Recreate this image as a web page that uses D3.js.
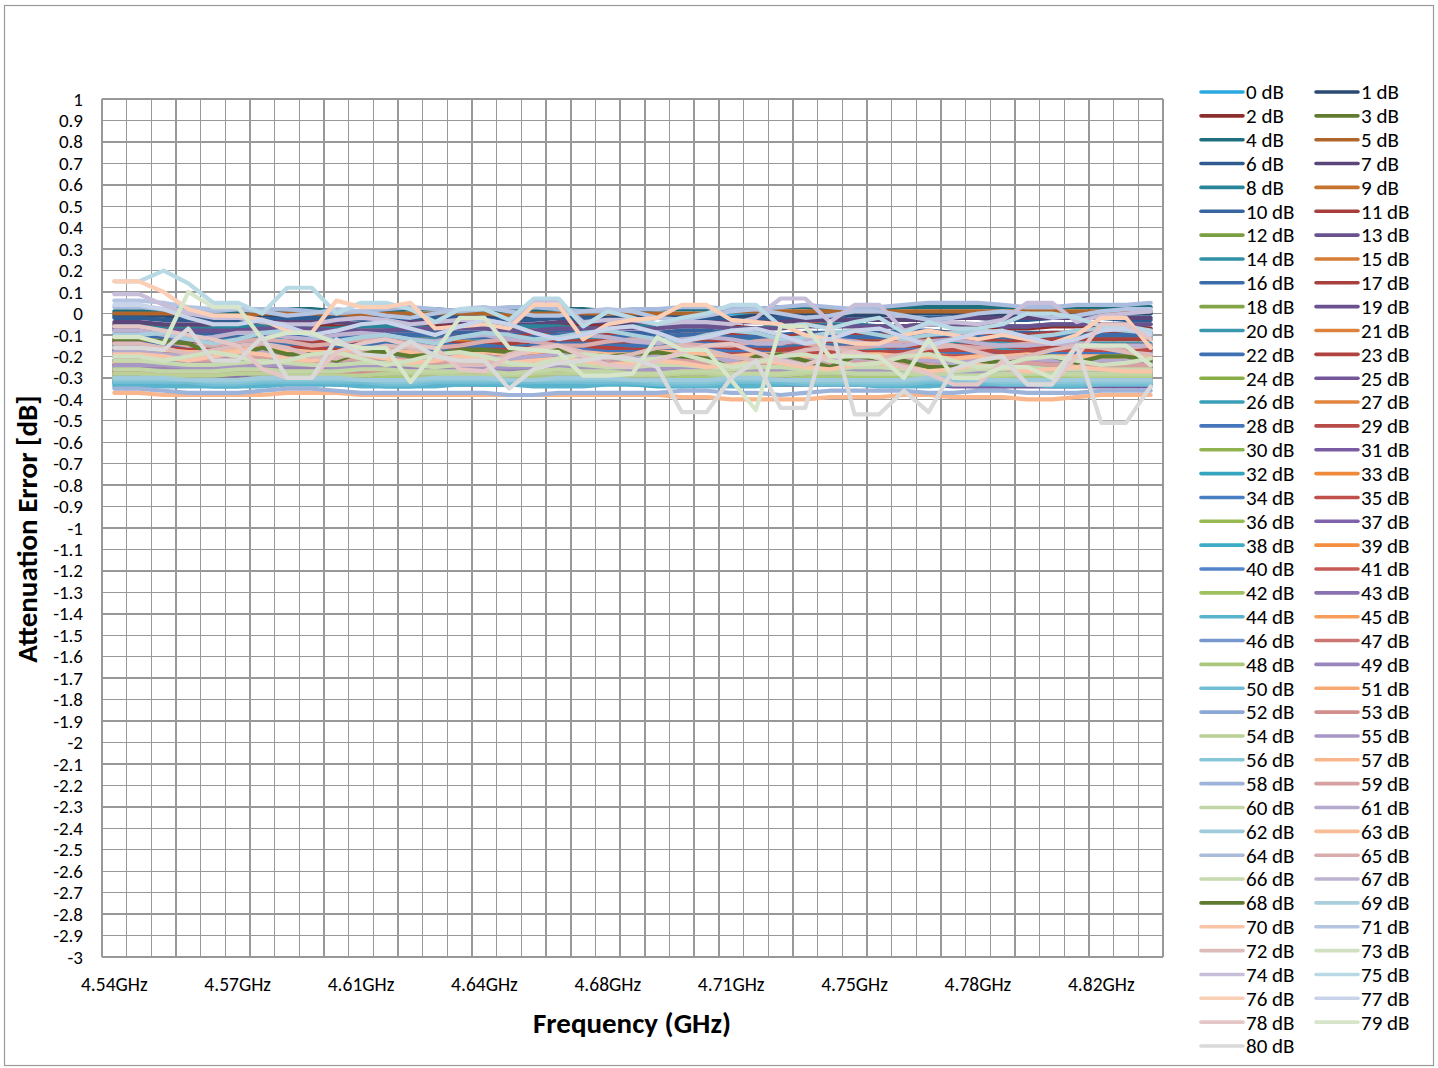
<!DOCTYPE html>
<html><head><meta charset="utf-8">
<script src="https://cdn.jsdelivr.net/npm/d3@7"></script>
<style>
body{margin:0;background:#fff}
svg{display:block}
text{font-family:Carlito,Calibri,Lato,sans-serif;fill:#000}
</style>
</head><body>
<svg id="chart" width="1438" height="1068"></svg>
<script>
// ---------- data ----------
const categories = ["4.54GHz","4.55GHz","4.55GHz","4.56GHz","4.57GHz","4.57GHz","4.58GHz","4.59GHz","4.60GHz","4.60GHz",
"4.61GHz","4.62GHz","4.62GHz","4.63GHz","4.64GHz","4.64GHz","4.65GHz","4.66GHz","4.67GHz","4.67GHz",
"4.68GHz","4.69GHz","4.69GHz","4.70GHz","4.71GHz","4.71GHz","4.72GHz","4.73GHz","4.74GHz","4.74GHz",
"4.75GHz","4.76GHz","4.76GHz","4.77GHz","4.78GHz","4.78GHz","4.79GHz","4.80GHz","4.81GHz","4.81GHz",
"4.82GHz","4.83GHz","4.83GHz"];
const labelledCategories = [0,5,10,15,20,25,30,35,40];
const yTicks = [1,0.9,0.8,0.7,0.6,0.5,0.4,0.3,0.2,0.1,0,-0.1,-0.2,-0.3,-0.4,-0.5,-0.6,-0.7,-0.8,-0.9,-1,
-1.1,-1.2,-1.3,-1.4,-1.5,-1.6,-1.7,-1.8,-1.9,-2,-2.1,-2.2,-2.3,-2.4,-2.5,-2.6,-2.7,-2.8,-2.9,-3];
const attenuations = [0,1,2,3,4,5,6,7,8,9,10,11,12,13,14,15,16,17,18,19,20,21,22,23,24,25,26,27,28,29,30,
31,32,33,34,35,36,37,38,39,40,41,42,43,44,45,46,47,48,49,50,51,52,53,54,55,56,57,58,59,60,
61,62,63,64,65,66,67,68,69,70,71,72,73,74,75,76,77,78,79,80];

const s0=[0,0,0,0,0,0,0,0,0,0, 0,0,0,0,0,0,0,0,0,0, 0,0,0,0,0,0,0,0,0,0, 0,0,0,0,0,0,0,0,0,0, 0,0,0];
const s1=[-.01,-.01,-.01,-.02,-.02,-.02,-.01,-.01,-.01,-.01, -.02,-.02,-.01,-.01,-.01,-.02,-.02,-.01,-.01,-.01, -.02,-.01,-.01,-.01,-.01,-.02,-.01,-.01,0,0, -.01,-.01,0,0,0,-.01,-.01,0,0,0, 0,0,0];
const s2=[-.05,-.05,-.06,-.06,-.07,-.07,-.06,-.05,-.05,-.06, -.06,-.06,-.05,-.05,-.06,-.07,-.07,-.06,-.05,-.05, -.06,-.06,-.05,-.05,-.06,-.06,-.07,-.06,-.05,-.05, -.06,-.06,-.06,-.05,-.05,-.06,-.07,-.07,-.06,-.06, -.06,-.06,-.07];
const s3=[-.26,-.26,-.27,-.27,-.28,-.28,-.27,-.27,-.26,-.26, -.27,-.27,-.28,-.28,-.27,-.27,-.27,-.26,-.26,-.27, -.27,-.28,-.28,-.27,-.27,-.26,-.27,-.27,-.28,-.28, -.27,-.27,-.26,-.26,-.27,-.27,-.28,-.28,-.27,-.27, -.27,-.27,-.28];
const s4=[.01,.01,.02,.02,.01,.01,.01,.02,.02,.01, .01,.01,.02,.02,.01,.01,.01,.01,.02,.02, .01,.01,.02,.02,.02,.02,.02,.03,.03,.02, .02,.02,.03,.03,.03,.03,.03,.03,.03,.03, .03,.03,.03];
const s5=[0,0,0,0,-.01,-.01,0,0,0,-.01, -.01,0,0,0,0,0,-.01,0,0,0, 0,0,0,0,0,.01,.01,.01,.01,.01, .01,.01,.01,.01,.01,.01,.01,.01,.01,.01, .01,.01,.01];
const s6=[-.02,-.02,-.03,-.03,-.03,-.03,-.03,-.02,-.02,-.02, -.03,-.03,-.03,-.02,-.02,-.03,-.03,-.03,-.02,-.02, -.03,-.03,-.02,-.02,-.02,-.03,-.03,-.02,-.02,-.02, -.03,-.03,-.03,-.02,-.02,-.02,-.03,-.03,-.02,-.02, -.02,-.03,-.03];
const s7=[-.04,-.04,-.05,-.05,-.05,-.05,-.04,-.04,-.04,-.04, -.05,-.05,-.04,-.04,-.04,-.05,-.05,-.05,-.04,-.04, -.04,-.05,-.05,-.04,-.04,-.04,-.04,-.04,-.03,-.03, -.03,-.03,-.03,-.03,-.02,-.02,-.02,-.02,-.02,-.02, -.02,-.02,-.02];
const s8=[-.06,-.06,-.07,-.07,-.07,-.06,-.06,-.06,-.07,-.07, -.06,-.06,-.06,-.07,-.07,-.07,-.06,-.06,-.06,-.07, -.07,-.06,-.06,-.06,-.06,-.07,-.07,-.06,-.06,-.05, -.05,-.06,-.06,-.05,-.05,-.05,-.06,-.06,-.05,-.05, -.05,-.05,-.05];
const s9=[-.10,-.10,-.11,-.11,-.12,-.12,-.11,-.10,-.10,-.11, -.11,-.12,-.11,-.11,-.10,-.11,-.12,-.12,-.11,-.10, -.10,-.11,-.11,-.12,-.12,-.11,-.11,-.10,-.11,-.12, -.12,-.11,-.11,-.11,-.12,-.12,-.11,-.11,-.11,-.12, -.12,-.12,-.12];
const s10=[-.08,-.08,-.09,-.09,-.09,-.08,-.08,-.08,-.09,-.09, -.09,-.08,-.08,-.08,-.09,-.09,-.10,-.09,-.08,-.08, -.09,-.09,-.09,-.08,-.08,-.09,-.09,-.10,-.09,-.09, -.09,-.09,-.08,-.08,-.09,-.09,-.09,-.09,-.09,-.09, -.09,-.09,-.09];
const s11=[-.10,-.10,-.10,-.11,-.11,-.11,-.10,-.10,-.10,-.11, -.11,-.10,-.10,-.10,-.11,-.11,-.11,-.10,-.10,-.10, -.10,-.11,-.11,-.10,-.10,-.10,-.11,-.11,-.10,-.10, -.10,-.10,-.10,-.09,-.09,-.09,-.10,-.10,-.09,-.09, -.09,-.09,-.09];
const s12=[-.24,-.24,-.25,-.25,-.26,-.26,-.25,-.25,-.24,-.25, -.25,-.26,-.26,-.25,-.25,-.25,-.26,-.26,-.25,-.25, -.24,-.25,-.25,-.26,-.26,-.25,-.25,-.25,-.26,-.26, -.26,-.25,-.25,-.25,-.26,-.26,-.26,-.25,-.25,-.26, -.26,-.26,-.27];
const s13=[-.07,-.07,-.08,-.08,-.08,-.08,-.07,-.07,-.07,-.08, -.08,-.08,-.07,-.07,-.07,-.07,-.08,-.08,-.07,-.07, -.07,-.07,-.07,-.06,-.06,-.07,-.07,-.07,-.06,-.06, -.06,-.06,-.06,-.05,-.05,-.05,-.06,-.06,-.05,-.05, -.05,-.05,-.05];
const s14=[-.12,-.12,-.13,-.13,-.13,-.12,-.12,-.12,-.13,-.13, -.13,-.12,-.12,-.12,-.13,-.13,-.13,-.12,-.12,-.12, -.12,-.13,-.13,-.12,-.12,-.12,-.13,-.13,-.12,-.12, -.11,-.11,-.12,-.12,-.11,-.11,-.11,-.12,-.12,-.11, -.11,-.11,-.11];
const s15=[-.13,-.13,-.14,-.14,-.15,-.15,-.14,-.13,-.13,-.14, -.14,-.15,-.14,-.14,-.13,-.14,-.15,-.15,-.14,-.13, -.13,-.14,-.14,-.15,-.15,-.14,-.14,-.13,-.14,-.15, -.15,-.14,-.14,-.14,-.15,-.15,-.14,-.14,-.14,-.15, -.15,-.15,-.15];
const s16=[-.10,-.10,-.11,-.11,-.11,-.10,-.10,-.10,-.11,-.11, -.11,-.10,-.10,-.10,-.11,-.11,-.12,-.11,-.10,-.10, -.11,-.11,-.11,-.10,-.10,-.11,-.11,-.12,-.11,-.11, -.11,-.11,-.10,-.10,-.11,-.11,-.11,-.11,-.11,-.10, -.10,-.10,-.10];
const s17=[-.13,-.13,-.13,-.14,-.14,-.14,-.13,-.13,-.13,-.14, -.14,-.13,-.13,-.13,-.14,-.14,-.14,-.13,-.13,-.13, -.13,-.14,-.14,-.13,-.13,-.13,-.14,-.14,-.13,-.13, -.13,-.13,-.13,-.12,-.12,-.12,-.13,-.13,-.12,-.12, -.12,-.12,-.12];
const s18=[-.27,-.27,-.28,-.28,-.28,-.27,-.27,-.27,-.28,-.28, -.28,-.27,-.27,-.27,-.28,-.28,-.29,-.28,-.27,-.27, -.28,-.28,-.28,-.27,-.27,-.28,-.28,-.29,-.28,-.28, -.28,-.28,-.27,-.27,-.28,-.28,-.28,-.28,-.28,-.28, -.28,-.28,-.28];
const s19=[-.30,-.30,-.30,-.31,-.31,-.31,-.30,-.30,-.30,-.31, -.31,-.30,-.30,-.30,-.31,-.31,-.31,-.30,-.30,-.30, -.30,-.31,-.31,-.30,-.30,-.30,-.31,-.31,-.31,-.31, -.31,-.31,-.31,-.31,-.32,-.32,-.32,-.31,-.31,-.31, -.31,-.31,-.31];
const s20=[-.15,-.15,-.16,-.16,-.16,-.15,-.15,-.15,-.16,-.16, -.16,-.15,-.15,-.15,-.16,-.16,-.16,-.15,-.15,-.15, -.15,-.16,-.16,-.15,-.15,-.15,-.16,-.16,-.15,-.15, -.14,-.14,-.15,-.15,-.14,-.14,-.14,-.15,-.15,-.14, -.14,-.14,-.14];
const s21=[-.17,-.17,-.18,-.18,-.18,-.18,-.17,-.17,-.17,-.18, -.18,-.18,-.17,-.17,-.17,-.17,-.18,-.18,-.17,-.17, -.17,-.18,-.18,-.18,-.18,-.17,-.17,-.17,-.17,-.18, -.18,-.17,-.17,-.17,-.17,-.18,-.18,-.17,-.17,-.17, -.17,-.17,-.17];
const s22=[-.14,-.14,-.15,-.15,-.15,-.14,-.14,-.14,-.15,-.15, -.15,-.14,-.14,-.14,-.15,-.15,-.16,-.15,-.14,-.14, -.15,-.15,-.15,-.14,-.14,-.15,-.15,-.16,-.15,-.15, -.15,-.15,-.14,-.14,-.15,-.15,-.15,-.15,-.15,-.15, -.15,-.15,-.15];
const s23=[-.16,-.16,-.16,-.17,-.17,-.17,-.16,-.16,-.16,-.17, -.17,-.16,-.16,-.16,-.17,-.17,-.17,-.16,-.16,-.16, -.16,-.17,-.17,-.16,-.16,-.16,-.17,-.17,-.16,-.16, -.16,-.16,-.16,-.15,-.15,-.15,-.16,-.16,-.15,-.15, -.15,-.15,-.15];
const s24=[-.28,-.28,-.29,-.29,-.29,-.28,-.28,-.28,-.29,-.29, -.29,-.28,-.28,-.28,-.29,-.29,-.30,-.29,-.28,-.28, -.29,-.29,-.29,-.28,-.28,-.29,-.29,-.30,-.29,-.29, -.29,-.29,-.28,-.28,-.29,-.29,-.29,-.29,-.29,-.29, -.29,-.29,-.29];
const s25=[-.31,-.31,-.31,-.32,-.32,-.32,-.31,-.31,-.31,-.32, -.32,-.31,-.31,-.31,-.32,-.32,-.32,-.32,-.31,-.31, -.32,-.32,-.32,-.32,-.32,-.32,-.33,-.33,-.33,-.33, -.33,-.33,-.33,-.33,-.33,-.34,-.34,-.34,-.34,-.34, -.34,-.34,-.34];
const s26=[-.18,-.18,-.19,-.19,-.19,-.18,-.18,-.18,-.19,-.19, -.19,-.18,-.18,-.18,-.19,-.19,-.19,-.18,-.18,-.18, -.18,-.19,-.19,-.18,-.18,-.18,-.19,-.19,-.18,-.18, -.17,-.17,-.18,-.18,-.17,-.17,-.17,-.18,-.18,-.17, -.17,-.17,-.17];
const s27=[-.20,-.20,-.21,-.21,-.21,-.21,-.20,-.20,-.20,-.21, -.21,-.21,-.20,-.20,-.20,-.20,-.21,-.21,-.20,-.20, -.20,-.21,-.21,-.21,-.21,-.20,-.20,-.20,-.20,-.21, -.21,-.20,-.20,-.19,-.19,-.20,-.20,-.19,-.19,-.19, -.19,-.19,-.19];
const s28=[-.17,-.17,-.18,-.18,-.18,-.17,-.17,-.17,-.18,-.18, -.18,-.17,-.17,-.17,-.18,-.18,-.19,-.18,-.17,-.17, -.18,-.18,-.18,-.17,-.17,-.18,-.18,-.19,-.18,-.18, -.18,-.18,-.17,-.17,-.18,-.18,-.18,-.18,-.18,-.18, -.18,-.18,-.18];
const s29=[-.19,-.19,-.19,-.20,-.20,-.20,-.19,-.19,-.19,-.20, -.20,-.19,-.19,-.19,-.20,-.20,-.20,-.19,-.19,-.19, -.19,-.20,-.20,-.19,-.19,-.19,-.19,-.19,-.18,-.18, -.18,-.18,-.18,-.17,-.17,-.17,-.18,-.18,-.17,-.17, -.17,-.17,-.17];
const s30=[-.29,-.29,-.30,-.30,-.30,-.29,-.29,-.29,-.30,-.30, -.30,-.29,-.29,-.29,-.30,-.30,-.31,-.30,-.29,-.29, -.30,-.30,-.30,-.29,-.29,-.30,-.30,-.31,-.30,-.30, -.30,-.30,-.29,-.29,-.30,-.30,-.30,-.30,-.30,-.30, -.30,-.30,-.30];
const s31=[-.32,-.32,-.32,-.33,-.33,-.33,-.32,-.32,-.32,-.33, -.33,-.32,-.32,-.32,-.33,-.33,-.33,-.32,-.32,-.32, -.32,-.33,-.33,-.32,-.32,-.32,-.33,-.33,-.33,-.33, -.33,-.33,-.33,-.33,-.34,-.34,-.34,-.33,-.33,-.33, -.33,-.33,-.33];
const s32=[-.32,-.32,-.33,-.33,-.33,-.32,-.32,-.32,-.32,-.32, -.33,-.33,-.32,-.32,-.32,-.33,-.33,-.32,-.32,-.32, -.32,-.32,-.33,-.33,-.32,-.32,-.32,-.32,-.31,-.31, -.32,-.32,-.32,-.31,-.31,-.31,-.32,-.32,-.31,-.31, -.31,-.31,-.31];
const s33=[-.22,-.22,-.23,-.23,-.23,-.23,-.22,-.22,-.22,-.23, -.23,-.23,-.22,-.22,-.22,-.22,-.23,-.23,-.22,-.22, -.22,-.23,-.23,-.23,-.23,-.22,-.22,-.22,-.22,-.23, -.23,-.22,-.22,-.21,-.21,-.22,-.22,-.21,-.21,-.21, -.21,-.21,-.21];
const s34=[-.20,-.20,-.21,-.21,-.21,-.20,-.20,-.20,-.21,-.21, -.21,-.20,-.20,-.20,-.21,-.21,-.22,-.21,-.20,-.20, -.21,-.21,-.21,-.20,-.20,-.21,-.21,-.22,-.21,-.21, -.21,-.21,-.20,-.20,-.21,-.21,-.21,-.20,-.20,-.20, -.20,-.20,-.20];
const s35=[-.22,-.22,-.22,-.23,-.23,-.23,-.22,-.22,-.22,-.23, -.23,-.22,-.22,-.22,-.23,-.23,-.23,-.22,-.22,-.22, -.22,-.23,-.23,-.22,-.22,-.22,-.22,-.22,-.21,-.21, -.21,-.21,-.21,-.20,-.20,-.20,-.21,-.21,-.20,-.20, -.20,-.20,-.20];
const s36=[-.30,-.30,-.31,-.31,-.31,-.30,-.30,-.30,-.31,-.31, -.31,-.30,-.30,-.30,-.31,-.31,-.31,-.30,-.30,-.30, -.31,-.31,-.31,-.30,-.30,-.31,-.31,-.31,-.30,-.30, -.30,-.30,-.30,-.30,-.31,-.31,-.31,-.30,-.30,-.30, -.30,-.30,-.30];
const s37=[-.27,-.27,-.27,-.28,-.28,-.28,-.27,-.27,-.27,-.28, -.28,-.27,-.27,-.27,-.28,-.28,-.28,-.27,-.27,-.27, -.28,-.28,-.28,-.28,-.28,-.28,-.29,-.29,-.28,-.28, -.28,-.29,-.29,-.29,-.29,-.29,-.29,-.29,-.29,-.29, -.29,-.29,-.29];
const s38=[-.33,-.33,-.33,-.33,-.34,-.34,-.33,-.33,-.33,-.33, -.33,-.34,-.34,-.33,-.33,-.33,-.33,-.33,-.33,-.33, -.33,-.33,-.34,-.34,-.33,-.33,-.33,-.33,-.32,-.32, -.33,-.33,-.33,-.32,-.32,-.32,-.33,-.33,-.32,-.32, -.32,-.32,-.32];
const s39=[-.24,-.24,-.25,-.25,-.25,-.25,-.24,-.24,-.24,-.25, -.25,-.25,-.24,-.24,-.24,-.24,-.25,-.25,-.24,-.24, -.24,-.25,-.25,-.25,-.25,-.24,-.24,-.24,-.24,-.25, -.25,-.24,-.24,-.23,-.23,-.24,-.24,-.23,-.23,-.23, -.23,-.23,-.23];
const s40=[-.22,-.22,-.23,-.23,-.23,-.22,-.22,-.22,-.23,-.23, -.23,-.22,-.22,-.22,-.23,-.23,-.24,-.23,-.22,-.22, -.23,-.23,-.23,-.22,-.22,-.23,-.23,-.24,-.23,-.23, -.23,-.23,-.22,-.22,-.23,-.23,-.23,-.23,-.23,-.23, -.23,-.23,-.23];
const s41=[-.24,-.24,-.24,-.25,-.25,-.25,-.24,-.24,-.24,-.25, -.25,-.24,-.24,-.24,-.25,-.25,-.25,-.24,-.24,-.24, -.24,-.25,-.25,-.24,-.24,-.24,-.24,-.24,-.23,-.23, -.23,-.23,-.23,-.22,-.22,-.22,-.23,-.23,-.22,-.22, -.22,-.22,-.22];
const s42=[-.31,-.31,-.32,-.32,-.32,-.31,-.31,-.31,-.32,-.32, -.32,-.31,-.31,-.31,-.32,-.32,-.32,-.31,-.31,-.31, -.31,-.32,-.32,-.31,-.31,-.31,-.32,-.32,-.31,-.31, -.31,-.31,-.31,-.31,-.32,-.32,-.32,-.31,-.31,-.31, -.31,-.31,-.31];
const s43=[-.28,-.28,-.28,-.29,-.29,-.29,-.28,-.28,-.28,-.29, -.29,-.28,-.28,-.28,-.29,-.29,-.29,-.28,-.28,-.28, -.29,-.29,-.29,-.29,-.29,-.29,-.30,-.30,-.29,-.29, -.29,-.30,-.30,-.30,-.30,-.30,-.30,-.30,-.30,-.30, -.30,-.30,-.30];
const s44=[-.34,-.34,-.34,-.34,-.34,-.34,-.34,-.33,-.33,-.33, -.34,-.34,-.34,-.34,-.33,-.33,-.33,-.34,-.34,-.34, -.33,-.33,-.33,-.34,-.34,-.34,-.34,-.33,-.33,-.33, -.33,-.34,-.34,-.34,-.33,-.33,-.33,-.33,-.34,-.34, -.33,-.33,-.33];
const s45=[-.27,-.27,-.28,-.28,-.28,-.28,-.27,-.27,-.27,-.28, -.28,-.28,-.27,-.27,-.27,-.27,-.28,-.28,-.27,-.27, -.27,-.27,-.27,-.27,-.27,-.26,-.26,-.26,-.26,-.27, -.27,-.26,-.26,-.25,-.25,-.26,-.26,-.25,-.25,-.25, -.25,-.25,-.25];
const s46=[-.25,-.25,-.26,-.26,-.26,-.25,-.25,-.25,-.26,-.26, -.26,-.25,-.25,-.25,-.26,-.26,-.27,-.26,-.25,-.25, -.26,-.26,-.26,-.25,-.25,-.26,-.26,-.27,-.26,-.26, -.26,-.26,-.25,-.25,-.26,-.26,-.26,-.25,-.25,-.25, -.25,-.25,-.25];
const s47=[-.26,-.26,-.26,-.27,-.27,-.27,-.26,-.26,-.26,-.27, -.27,-.26,-.26,-.26,-.27,-.27,-.27,-.26,-.26,-.26, -.26,-.27,-.27,-.26,-.26,-.26,-.26,-.26,-.25,-.25, -.25,-.25,-.25,-.25,-.25,-.25,-.26,-.26,-.25,-.25, -.25,-.25,-.25];
const s48=[-.30,-.30,-.30,-.31,-.31,-.31,-.30,-.30,-.30,-.31, -.31,-.30,-.30,-.30,-.30,-.31,-.31,-.30,-.30,-.30, -.30,-.31,-.31,-.30,-.30,-.30,-.31,-.31,-.30,-.30, -.30,-.30,-.30,-.30,-.31,-.31,-.30,-.30,-.30,-.30, -.30,-.30,-.30];
const s49=[-.26,-.26,-.26,-.27,-.27,-.27,-.26,-.26,-.26,-.27, -.27,-.26,-.26,-.26,-.27,-.27,-.27,-.26,-.26,-.26, -.27,-.27,-.27,-.27,-.27,-.27,-.28,-.28,-.27,-.27, -.27,-.28,-.28,-.28,-.28,-.28,-.28,-.28,-.28,-.28, -.28,-.28,-.28];
const s50=[-.32,-.32,-.32,-.32,-.33,-.33,-.32,-.32,-.32,-.32, -.32,-.33,-.33,-.32,-.32,-.32,-.32,-.32,-.32,-.32, -.32,-.32,-.33,-.33,-.33,-.32,-.32,-.32,-.33,-.33, -.33,-.33,-.33,-.32,-.32,-.32,-.33,-.33,-.33,-.33, -.33,-.33,-.33];
const s51=[-.23,-.23,-.24,-.24,-.24,-.24,-.23,-.23,-.23,-.24, -.24,-.24,-.23,-.23,-.23,-.23,-.24,-.24,-.23,-.23, -.23,-.23,-.23,-.23,-.23,-.22,-.22,-.22,-.22,-.23, -.23,-.22,-.22,-.21,-.21,-.22,-.22,-.21,-.21,-.21, -.21,-.21,-.21];
const s52=[-.27,-.27,-.28,-.28,-.28,-.27,-.27,-.27,-.28,-.28, -.28,-.27,-.27,-.27,-.28,-.28,-.28,-.27,-.27,-.27, -.28,-.28,-.28,-.27,-.27,-.28,-.28,-.28,-.27,-.27, -.27,-.27,-.27,-.27,-.28,-.28,-.28,-.27,-.27,-.27, -.27,-.27,-.27];
const s53=[-.27,-.27,-.27,-.28,-.28,-.28,-.27,-.27,-.27,-.28, -.28,-.27,-.27,-.27,-.28,-.28,-.28,-.27,-.27,-.27, -.27,-.28,-.28,-.27,-.27,-.27,-.27,-.27,-.26,-.26, -.26,-.26,-.26,-.26,-.26,-.26,-.27,-.27,-.26,-.26, -.26,-.26,-.26];
const s54=[-.28,-.28,-.29,-.29,-.29,-.28,-.28,-.28,-.29,-.29, -.29,-.28,-.28,-.28,-.29,-.29,-.29,-.28,-.28,-.28, -.29,-.29,-.29,-.28,-.28,-.29,-.29,-.29,-.28,-.28, -.28,-.28,-.28,-.29,-.29,-.29,-.29,-.28,-.28,-.29, -.29,-.29,-.29];
const s55=[-.24,-.24,-.24,-.25,-.25,-.25,-.24,-.24,-.24,-.25, -.25,-.24,-.24,-.24,-.25,-.25,-.25,-.25,-.25,-.25, -.26,-.26,-.26,-.25,-.25,-.26,-.26,-.26,-.26,-.26, -.26,-.27,-.27,-.27,-.27,-.27,-.27,-.27,-.27,-.27, -.27,-.27,-.27];
const s56=[-.31,-.31,-.31,-.31,-.32,-.32,-.31,-.31,-.31,-.31, -.31,-.32,-.32,-.31,-.31,-.31,-.31,-.31,-.31,-.31, -.31,-.31,-.32,-.32,-.32,-.31,-.31,-.31,-.32,-.32, -.32,-.32,-.32,-.31,-.31,-.31,-.32,-.32,-.32,-.32, -.32,-.32,-.32];
const s57=[-.37,-.37,-.38,-.38,-.38,-.38,-.38,-.37,-.37,-.37, -.38,-.38,-.38,-.38,-.38,-.38,-.38,-.38,-.38,-.38, -.38,-.38,-.38,-.39,-.39,-.40,-.40,-.40,-.40,-.39, -.39,-.39,-.38,-.38,-.39,-.39,-.39,-.40,-.40,-.39, -.38,-.38,-.38];
const s58=[-.35,-.35,-.36,-.37,-.37,-.37,-.36,-.35,-.35,-.36, -.37,-.37,-.37,-.37,-.37,-.37,-.38,-.38,-.37,-.37, -.37,-.37,-.37,-.36,-.36,-.37,-.37,-.38,-.37,-.36, -.36,-.36,-.36,-.37,-.37,-.36,-.36,-.37,-.37,-.37, -.36,-.36,-.36];
const s59=[-.20,-.20,-.21,-.22,-.22,-.21,-.20,-.21,-.22,-.22, -.21,-.21,-.22,-.23,-.22,-.22,-.23,-.22,-.21,-.22, -.23,-.23,-.22,-.22,-.23,-.24,-.23,-.23,-.24,-.24, -.23,-.23,-.24,-.24,-.25,-.24,-.24,-.23,-.24,-.24, -.24,-.24,-.24];
const s60=[-.26,-.26,-.27,-.27,-.27,-.26,-.26,-.27,-.27,-.27, -.26,-.26,-.27,-.27,-.27,-.27,-.28,-.27,-.26,-.27, -.27,-.28,-.28,-.27,-.27,-.28,-.28,-.28,-.27,-.27, -.28,-.28,-.28,-.28,-.29,-.29,-.28,-.28,-.28,-.28, -.28,-.28,-.28];
const s61=[-.18,-.18,-.19,-.20,-.20,-.19,-.18,-.19,-.20,-.20, -.19,-.19,-.20,-.21,-.20,-.20,-.21,-.20,-.19,-.20, -.21,-.21,-.20,-.20,-.21,-.22,-.21,-.21,-.22,-.22, -.21,-.21,-.22,-.22,-.23,-.22,-.22,-.21,-.22,-.22, -.22,-.22,-.22];
const s62=[-.30,-.30,-.30,-.31,-.31,-.31,-.30,-.30,-.30,-.30, -.31,-.31,-.31,-.30,-.30,-.30,-.31,-.31,-.30,-.30, -.30,-.31,-.31,-.31,-.31,-.30,-.30,-.31,-.31,-.31, -.31,-.31,-.31,-.30,-.30,-.31,-.31,-.31,-.31,-.31, -.31,-.31,-.31];
const s63=[-.16,-.16,-.17,-.18,-.18,-.17,-.16,-.17,-.18,-.18, -.17,-.17,-.18,-.19,-.18,-.18,-.19,-.18,-.17,-.18, -.19,-.19,-.18,-.18,-.19,-.20,-.19,-.19,-.20,-.20, -.19,-.19,-.20,-.20,-.21,-.20,-.20,-.19,-.20,-.20, -.20,-.20,-.20];
const s64=[.03,.03,.02,.01,.01,.02,.02,.02,.01,0, .01,.02,.03,.02,.01,.02,.03,.03,.02,.01, .01,.02,.02,.03,.03,.02,.02,.03,.04,.03, .02,.03,.04,.05,.05,.05,.04,.03,.03,.04, .04,.04,.05];
const s65=[-.12,-.12,-.13,-.15,-.15,-.13,-.12,-.13,-.15,-.14, -.12,-.12,-.14,-.16,-.15,-.13,-.12,-.13,-.15,-.15, -.13,-.12,-.13,-.14,-.15,-.15,-.13,-.12,-.14,-.16, -.16,-.15,-.13,-.13,-.15,-.16,-.15,-.14,-.14,-.15, -.16,-.16,-.15];
const s66=[-.22,-.22,-.23,-.24,-.24,-.23,-.22,-.23,-.24,-.24, -.23,-.23,-.24,-.25,-.24,-.23,-.24,-.24,-.23,-.24, -.25,-.25,-.24,-.24,-.25,-.26,-.25,-.25,-.26,-.26, -.25,-.25,-.26,-.26,-.27,-.26,-.26,-.25,-.26,-.26, -.26,-.26,-.26];
const s67=[-.08,-.08,-.10,-.12,-.11,-.09,-.09,-.11,-.12,-.10, -.09,-.10,-.12,-.13,-.11,-.10,-.12,-.13,-.11,-.10, -.11,-.13,-.14,-.12,-.11,-.12,-.14,-.14,-.12,-.12, -.13,-.15,-.15,-.13,-.12,-.14,-.15,-.15,-.14,-.14, -.15,-.15,-.15];
const s68=[-.12,-.12,-.13,-.14,-.19,-.19,-.16,-.19,-.19,-.22, -.18,-.18,-.20,-.19,-.17,-.17,-.18,-.17,-.17,-.19, -.20,-.19,-.18,-.20,-.21,-.25,-.20,-.19,-.22,-.25, -.20,-.21,-.22,-.25,-.25,-.24,-.22,-.20,-.20,-.23, -.20,-.20,-.22];
const s69=[-.10,-.10,-.09,-.12,-.14,-.12,-.09,-.08,-.10,-.13, -.11,-.10,-.12,-.14,-.11,-.09,-.10,-.12,-.11,-.09, -.08,-.10,-.12,-.13,-.10,-.08,-.09,-.12,-.11,-.09, -.08,-.10,-.12,-.10,-.09,-.08,-.09,-.11,-.10,-.08, -.07,-.08,-.09];
const s70=[-.19,-.19,-.20,-.22,-.20,-.18,-.19,-.21,-.22,-.20, -.19,-.21,-.23,-.22,-.20,-.21,-.23,-.22,-.21,-.22, -.24,-.23,-.22,-.23,-.25,-.24,-.22,-.23,-.25,-.26, -.24,-.23,-.25,-.27,-.26,-.24,-.25,-.27,-.26,-.25, -.26,-.27,-.27];
const s71=[.06,.06,.05,.03,.02,.02,.01,-.01,0,.02, .01,-.01,-.02,0,.02,.03,.01,-.01,-.01,.01, .02,.01,-.02,-.03,-.01,.01,.02,0,-.02,-.01, .01,.01,-.01,-.03,-.02,0,.01,0,-.02,-.01, .01,.02,.02];
const s72=[-.14,-.14,-.16,-.19,-.17,-.15,-.14,-.16,-.20,-.21, -.17,-.15,-.16,-.19,-.24,-.24,-.19,-.16,-.15,-.18, -.21,-.19,-.16,-.15,-.17,-.20,-.22,-.20,-.17,-.16, -.18,-.21,-.19,-.16,-.15,-.18,-.21,-.20,-.17,-.15, -.16,-.18,-.19];
const s73=[-.20,-.20,-.22,-.20,-.18,-.20,-.23,-.22,-.19,-.18, -.21,-.24,-.22,-.19,-.18,-.20,-.23,-.24,-.21,-.19, -.20,-.22,-.21,-.19,-.22,-.25,-.23,-.20,-.19,-.22, -.24,-.23,-.20,-.19,-.22,-.25,-.24,-.21,-.20,-.22, -.24,-.23,-.21];
const s74=[.09,.09,.04,0,-.02,-.02,-.04,-.05,-.05,-.03, -.02,-.03,-.05,-.04,-.03,-.03,-.05,.06,.06,-.04, -.03,-.03,-.05,-.04,-.04,-.05,-.02,.07,.07,-.04, .04,.04,-.08,-.05,-.04,-.05,-.03,.05,.05,-.04, -.01,0,.01];
const s75=[.15,.15,.20,.14,.05,.05,0,.12,.12,0, .05,.05,.02,-.04,.02,.02,-.03,.07,.07,-.06, .01,-.02,-.05,-.02,0,.04,.04,-.06,-.05,-.07, -.04,-.02,-.09,-.04,-.07,-.07,-.05,0,0,-.02, -.06,-.06,-.08];
const s76=[.15,.15,.10,.02,-.01,-.01,-.03,-.08,-.09,.06, .03,.03,.05,-.07,-.06,-.05,-.07,.04,.04,-.12, -.05,-.03,-.02,.04,.04,-.03,-.04,-.05,-.10,-.12, -.14,-.14,-.10,-.08,-.10,-.12,-.10,-.12,-.14,-.10, -.02,-.02,-.16];
const s77=[.04,.04,.02,-.02,-.05,-.05,-.03,-.06,-.10,-.08, -.05,-.04,-.07,-.10,-.06,-.03,-.05,-.09,-.12,-.10, -.07,-.06,-.09,-.13,-.11,-.08,-.07,-.10,-.14,-.12, -.08,-.07,-.11,-.15,-.12,-.09,-.08,-.11,-.14,-.12, -.08,-.07,-.10];
const s78=[-.06,-.06,-.08,-.10,-.12,-.15,-.26,-.30,-.30,-.18, -.14,-.12,-.15,-.16,-.26,-.27,-.20,-.17,-.15,-.20, -.24,-.25,-.22,-.18,-.15,-.14,-.18,-.22,-.24,-.20, -.18,-.21,-.25,-.28,-.33,-.33,-.22,-.33,-.33,-.20, -.05,-.05,-.12];
const s79=[-.11,-.11,-.14,.10,.03,.03,-.12,-.09,-.09,-.14, -.16,-.16,-.32,-.18,-.02,-.02,-.16,-.17,-.18,-.29, -.29,-.28,-.11,-.17,-.17,-.31,-.45,-.06,-.06,-.20, -.20,-.20,-.30,-.12,-.30,-.30,-.25,-.25,-.30,-.15, -.15,-.15,-.24];
const s80=[-.16,-.16,-.17,-.07,-.22,-.22,-.11,-.30,-.30,-.12, -.19,-.20,-.13,-.20,-.22,-.22,-.35,-.26,-.23,-.22, -.20,-.21,-.25,-.46,-.46,-.30,-.22,-.44,-.44,-.04, -.47,-.47,-.36,-.46,-.26,-.22,-.20,-.33,-.33,-.15, -.51,-.51,-.34];

const seriesValues = [s0,s1,s2,s3,s4,s5,s6,s7,s8,s9,s10,s11,s12,s13,s14,s15,s16,s17,s18,s19,s20,
s21,s22,s23,s24,s25,s26,s27,s28,s29,s30,s31,s32,s33,s34,s35,s36,s37,s38,s39,s40,
s41,s42,s43,s44,s45,s46,s47,s48,s49,s50,s51,s52,s53,s54,s55,s56,s57,s58,s59,s60,
s61,s62,s63,s64,s65,s66,s67,s68,s69,s70,s71,s72,s73,s74,s75,s76,s77,s78,s79,s80];

const seriesColors = ["#2AA9E0","#2A4A72","#8C2E2C","#617B30","#1F6E7E","#B0652B","#2F5B91","#5B467B","#2A849A","#C77330",
"#3865A0","#A63E3B","#7C9E42","#6A528F","#3290A8","#D67D37","#3C6DAA","#A8403E","#83A548","#6B518F",
"#3A97AE","#DC823C","#3F71B2","#B0433F","#89AD47","#73579A","#3B9EB7","#E2853F","#4677BC","#B84A47",
"#8FB34E","#7A5CA3","#35A4C0","#EF893B","#4A7EC3","#C04F4C","#98BA52","#7F62A9","#3FACC6","#F68E3F",
"#5384C7","#C75B58","#9EC05F","#8A71B1","#5AB3CC","#F89E5A","#7698CF","#CC7674","#ABC77B","#9785BB",
"#71BDD4","#F8A973","#8BA7D3","#D28E8C","#BAD094","#A798C3","#87C6D7","#F9B58B","#9DB3DA","#D6A1A0",
"#C1D6A4","#B5A9CD","#9FCBDC","#F8BC96","#AABCDD","#D9ABAB","#C6D9AF","#BEB2D1","#5F7B30","#A9CFDD",
"#F9C4A8","#B5C4E1","#DDBBBB","#D0E0C0","#C7BEDA","#B9D9E4","#FBCEB6","#C9D3E9","#E4C6C6","#D7E6CA",
"#D9D9D9"];

// ---------- layout ----------
const W = 1438, H = 1068;
const plot = {left:102, right:1163, top:99, bottom:957};
const FONT = "Carlito,Calibri,Lato,sans-serif";
const svg = d3.select("#chart");
svg.append("rect").attr("x",0).attr("y",0).attr("width",W).attr("height",H).attr("fill","#fff");
svg.append("rect").attr("x",4.5).attr("y",5.5).attr("width",1429).attr("height",1060)
  .attr("fill","none").attr("stroke","#9a9a9a").attr("stroke-width",1.2);

const x = d3.scaleBand().domain(d3.range(categories.length)).range([plot.left, plot.right]).padding(0);
const y = d3.scaleLinear().domain([-3,1]).range([plot.bottom, plot.top]);
const bw = x.bandwidth();

// gridlines
const grid = svg.append("g").attr("stroke","#989898").attr("stroke-width",1.4).attr("shape-rendering","crispEdges");
const vBounds = d3.range(categories.length).map(i=>x(i)).concat([plot.right]);
grid.selectAll("line.v").data(vBounds).join("line").attr("class","v")
  .attr("x1",d=>d).attr("x2",d=>d).attr("y1",plot.top).attr("y2",plot.bottom);
grid.selectAll("line.h").data(yTicks).join("line").attr("class","h")
  .attr("x1",plot.left).attr("x2",plot.right).attr("y1",d=>y(d)).attr("y2",d=>y(d));

// axes
const yAxis = svg.append("g").attr("transform",`translate(${plot.left},0)`)
  .call(d3.axisLeft(y).tickValues(yTicks).tickSize(0).tickPadding(19).tickFormat(d=>String(d)));
yAxis.select(".domain").remove();
yAxis.selectAll("text").attr("font-size",19).style("font-family",FONT).attr("fill","#000");

const xAxis = svg.append("g").attr("transform",`translate(0,${plot.bottom})`)
  .call(d3.axisBottom(x).tickValues(labelledCategories).tickSize(0).tickPadding(20).tickFormat(i=>categories[i]));
xAxis.select(".domain").remove();
xAxis.selectAll("text").attr("font-size",19.5).style("font-family",FONT).attr("fill","#000");

// series lines
const line = d3.line().x((d,i)=>x(i)+bw/2).y(d=>y(d));
svg.append("g").selectAll("path").data(seriesValues).join("path")
  .attr("d",d=>line(d)).attr("fill","none")
  .attr("stroke",(d,i)=>seriesColors[i]).attr("stroke-width",4.2)
  .attr("stroke-linejoin","round").attr("stroke-linecap","round");

// titles
svg.append("text").attr("x",632).attr("y",1033).attr("text-anchor","middle")
  .attr("font-size",29).attr("font-weight","bold").style("font-family",FONT).text("Frequency (GHz)");
svg.append("text").attr("transform","translate(37,529) rotate(-90)").attr("text-anchor","middle")
  .attr("font-size",29).attr("font-weight","bold").style("font-family",FONT).text("Attenuation Error [dB]");

// legend
const legend = svg.append("g");
const items = legend.selectAll("g").data(attenuations).join("g")
  .attr("transform",(d,i)=>`translate(${i%2===0?1201:1316},${92+Math.floor(i/2)*23.85})`);
items.append("line").attr("x1",0).attr("x2",42).attr("y1",0).attr("y2",0)
  .attr("stroke",(d,i)=>seriesColors[i]).attr("stroke-width",3.6).attr("stroke-linecap","round");
items.append("text").attr("x",45).attr("y",0).attr("dy","0.35em").attr("font-size",21)
  .style("font-family",FONT).text(d=>`${d} dB`);
</script>
</body></html>
